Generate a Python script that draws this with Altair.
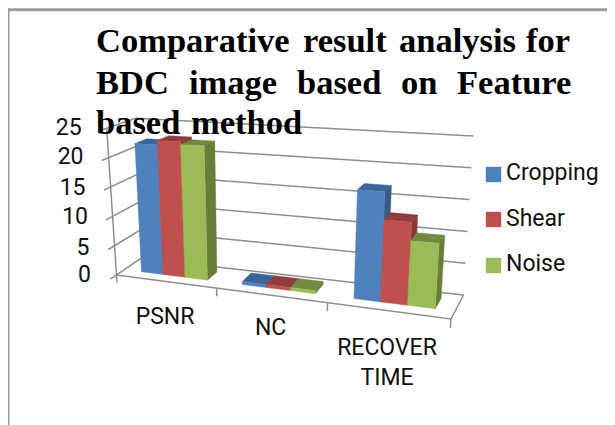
import altair as alt
import pandas as pd

CATEGORIES = ["PSNR", "NC", "RECOVER TIME"]
SERIES = ["Cropping", "Shear", "Noise"]
CROPPING = [22.0, 0.5, 16.9]
SHEAR = [22.75, 0.5, 12.6]
NOISE = [22.3, 0.5, 9.8]
TICKS = [0, 5, 10, 15, 20, 25]
TITLE_LINES = [
    ["Comparative", "result", "analysis", "for"],
    ["BDC", "image", "based", "on", "Feature"],
    ["based", "method"],
]

FRONT = ["#4F81BD", "#C0504D", "#9BBB59"]
TOP = ["#3A659A", "#8F3C3A", "#72893F"]
SIDE = ["#335A88", "#8A3836", "#677E38"]
GRID = "#8E8E8E"
FRAME = "#9A9A9A"
FONT = "Roboto"

# Perspective box of the 3-D chart: page pixels of its corners.
F0L, F0R, B0L, B0R = (116.5, 275), (451, 319), (141, 258.3), (463.5, 295)
F1L, F1R, B1L, B1R = (106.7, 128.3), (462.7, 146), (135.3, 118.3), (473.3, 136)
MAXV = 25.0
R = 1.17  # foreshortening along the category axis


def lerp(a, b, f):
    return (a[0] + (b[0] - a[0]) * f, a[1] + (b[1] - a[1]) * f)


def project(t, v, val):
    u = t / (t + R * (1 - t))
    w = val / MAXV
    f0 = lerp(F0L, F0R, u)
    b0 = lerp(B0L, B0R, u)
    f1 = lerp(F1L, F1R, u)
    b1 = lerp(B1L, B1R, u)
    return lerp(lerp(f0, b0, v), lerp(f1, b1, v), w)


# grid, axis lines
lines = []


def add_line(name, pts):
    for k, (x, y) in enumerate(pts):
        lines.append({"id": name, "k": k, "x": x, "y": y})


for tv in TICKS:
    add_line(f"wall{tv}", [project(0, -0.25, tv), project(0, 1, tv), project(1, 1, tv)])
add_line("axis", [project(0, 0, 0), project(0, 0, 25)])
add_line("front", [project(0, 0, 0), project(1, 0, 0), project(1, 1, 0)])
for i in range(len(CATEGORIES) + 1):
    add_line(f"xt{i}", [project(i / 3, 0, 0), project(i / 3, 0, -1.3)])

# bars as faces of boxes
polys = []
pid = 0


def add_poly(color, pts):
    global pid
    for k, (x, y) in enumerate(pts):
        polys.append({"id": pid, "k": k, "x": x, "y": y, "c": color})
    pid += 1


add_poly(FRAME, [(8, 8.5), (607, 8.5), (607, 11), (8, 11)])
add_poly(FRAME, [(8, 8.5), (9.3, 8.5), (9.3, 425), (8, 425)])

MARGIN, BAR_W, V0, V1 = 0.06, 0.074, 0.32, 0.76
for i in range(len(CATEGORIES)):
    for j, values in enumerate([CROPPING, SHEAR, NOISE]):
        h = values[i]
        t0 = i / 3 + MARGIN + j * BAR_W
        t1 = t0 + BAR_W
        add_poly(TOP[j], [project(t0, V0, h), project(t1, V0, h), project(t1, V1, h), project(t0, V1, h)])
        add_poly(SIDE[j], [project(t1, V0, 0), project(t1, V1, 0), project(t1, V1, h), project(t1, V0, h)])
        add_poly(FRONT[j], [project(t0, V0, 0), project(t1, V0, 0), project(t1, V0, h), project(t0, V0, h)])

for j, yy in enumerate([167, 212, 258]):
    add_poly(FRONT[j], [(486, yy), (501, yy), (501, yy + 15), (486, yy + 15)])

X = alt.X("x:Q", axis=None, scale=alt.Scale(domain=[8, 607], range=[0, 599], nice=False, zero=False))
Y = alt.Y("y:Q", axis=None, scale=alt.Scale(domain=[8, 425], range=[0, 417], nice=False, zero=False))

line_layer = alt.Chart(pd.DataFrame(lines)).mark_line(stroke=GRID, strokeWidth=1.5).encode(
    x=X, y=Y, detail="id:N", order="k:Q"
)
poly_layer = alt.Chart(pd.DataFrame(polys)).mark_line(interpolate="linear-closed", strokeWidth=0.4).encode(
    x=X, y=Y, detail="id:N", order="k:Q",
    fill=alt.Fill("c:N", scale=None), stroke=alt.Stroke("c:N", scale=None),
)

# text
Y_LABEL_X = [91, 89.4, 88, 85.5, 83.5, 81.6]
Y_LABEL_Y = [275, 248, 217, 188, 157, 128]
labels = [{"x": a, "y": b, "t": str(v)} for a, b, v in zip(Y_LABEL_X, Y_LABEL_Y, TICKS)]
labels_c = [
    {"x": 165, "y": 317, "t": CATEGORIES[0]},
    {"x": 270.6, "y": 328, "t": CATEGORIES[1]},
    {"x": 387, "y": 348, "t": CATEGORIES[2].split()[0]},
    {"x": 387, "y": 378, "t": CATEGORIES[2].split()[1]},
]
labels_l = [{"x": 506, "y": yy, "t": s} for yy, s in zip([173, 219, 264], SERIES)]

TXT_SIZE = 23
ylab = alt.Chart(pd.DataFrame(labels)).mark_text(font=FONT, fontSize=TXT_SIZE, align="right", baseline="middle", color="#111").encode(x=X, y=Y, text="t:N")
xlab = alt.Chart(pd.DataFrame(labels_c)).mark_text(font=FONT, fontSize=TXT_SIZE, align="center", baseline="middle", color="#111").encode(x=X, y=Y, text="t:N")
leg = alt.Chart(pd.DataFrame(labels_l)).mark_text(font=FONT, fontSize=TXT_SIZE, align="left", baseline="middle", color="#111").encode(x=X, y=Y, text="t:N")

WORD_X = [[96, 303, 399, 526], [96, 189, 297, 401, 457], [96, 191]]
BASE_Y = [52, 94, 134]
words = []
for ws, xs, by in zip(TITLE_LINES, WORD_X, BASE_Y):
    for w, xx in zip(ws, xs):
        words.append({"x": xx, "y": by, "t": w})
title = alt.Chart(pd.DataFrame(words)).mark_text(
    font="Liberation Serif", fontWeight="bold", fontSize=34.5, align="left", baseline="alphabetic", color="#000"
).encode(x=X, y=Y, text="t:N")

chart = alt.layer(line_layer, poly_layer, ylab, xlab, leg, title).properties(
    width=599, height=417, padding=0, autosize=alt.AutoSizeParams(type="none"), background="white"
).configure_view(stroke=None)

chart.save("out.html", embed_options={"renderer": "svg", "actions": False})
